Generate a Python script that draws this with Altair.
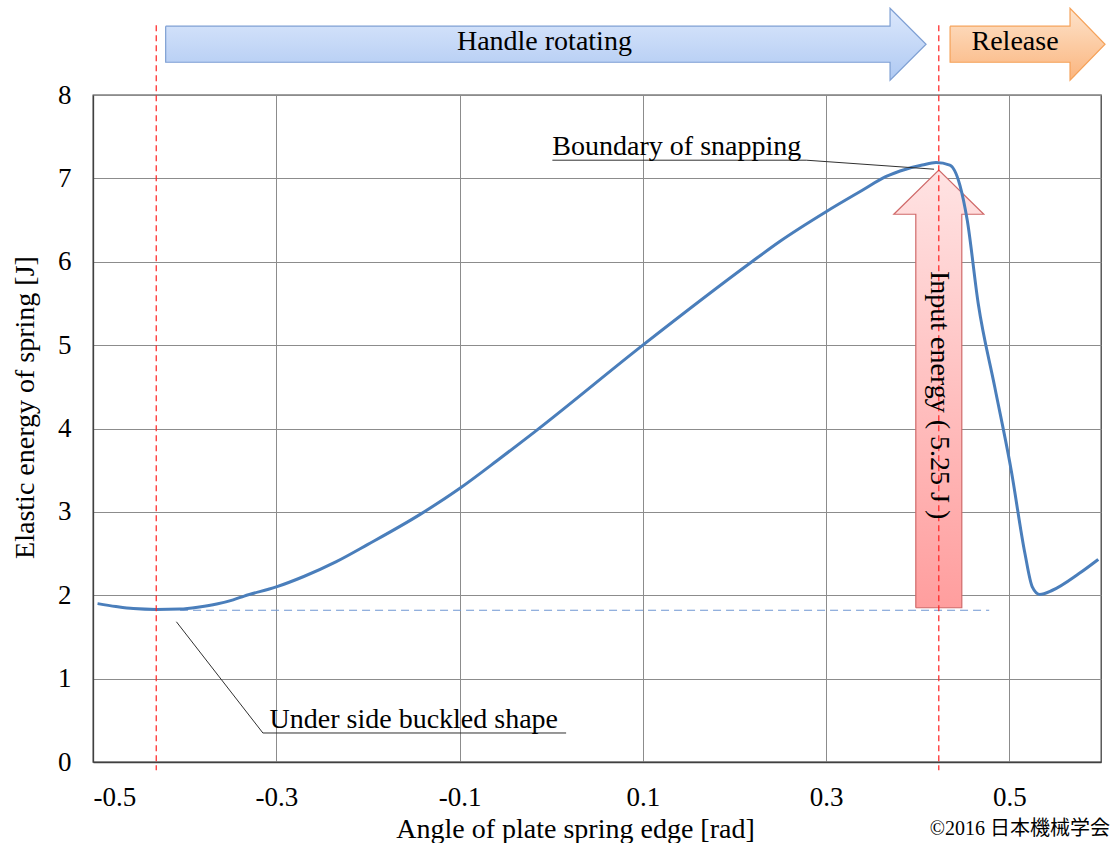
import altair as alt
import pandas as pd

# Elastic energy of the plate spring vs. edge angle
angle = [-0.495, -0.475, -0.456, -0.431, -0.405, -0.384, -0.365, -0.347, -0.335, -0.300,
         -0.270, -0.235, -0.200, -0.143, -0.100, -0.056, -0.018, 0.100, 0.219, 0.249,
         0.300, 0.340, 0.365, 0.387, 0.405, 0.420, 0.435, 0.446, 0.454, 0.466, 0.484,
         0.502, 0.517, 0.525, 0.533, 0.547, 0.576, 0.597]
energy = [1.90, 1.865, 1.84, 1.83, 1.835, 1.86, 1.895, 1.945, 1.99, 2.10,
          2.225, 2.40, 2.61, 2.97, 3.28, 3.64, 3.96, 5.00, 6.00, 6.24,
          6.60, 6.86, 7.02, 7.11, 7.16, 7.19, 7.16, 6.92, 6.50, 5.50, 4.50,
          3.50, 2.50, 2.10, 2.01, 2.06, 2.26, 2.43]

# phase boundaries (buckled shape / snapping) and energy levels
phase_angles = [-0.431, 0.423]
rest_energy = 1.82
rest_span = [-0.405, 0.478]
input_base = 1.85
input_energy = 5.25

x_ticks = [-0.5, -0.3, -0.1, 0.1, 0.3, 0.5]
y_ticks = [0, 1, 2, 3, 4, 5, 6, 7, 8]

SERIF = "Liberation Serif"
X = alt.X("x:Q", scale=alt.Scale(domain=[-0.5, 0.6], nice=False, zero=False),
          axis=alt.Axis(values=x_ticks, title="Angle of plate spring edge [rad]",
                        labelExpr="replace(datum.label, '\u2212', '-')",
                        titleX=482, titleY=67, titleBaseline="middle", titleAlign="center"))
Y = alt.Y("y:Q", scale=alt.Scale(domain=[0, 8], nice=False),
          axis=alt.Axis(values=y_ticks, title="Elastic energy of spring [J]",
                        titleX=-68, titleY=312, titleAngle=270,
                        titleBaseline="middle", titleAlign="center"))


def right_arrow(x0, x_head, x_tip, yc, body, head):
    pts = [(x0, yc + body), (x_head, yc + body), (x_head, yc + head), (x_tip, yc),
           (x_head, yc - head), (x_head, yc - body), (x0, yc - body), (x0, yc + body)]
    return pd.DataFrame([{"x": a, "y": b, "o": i} for i, (a, b) in enumerate(pts)])


def up_arrow(xc, y0, y_head, y_tip, body, head):
    pts = [(xc - body, y0), (xc - body, y_head), (xc - head, y_head), (xc, y_tip),
           (xc + head, y_head), (xc + body, y_head), (xc + body, y0), (xc - body, y0)]
    return pd.DataFrame([{"x": a, "y": b, "o": i} for i, (a, b) in enumerate(pts)])


def grad(top, bottom):
    return alt.Gradient(gradient="linear", x1=0, x2=0, y1=0, y2=1,
                        stops=[alt.GradientStop(color=top, offset=0),
                               alt.GradientStop(color=bottom, offset=1)])


def polygon(df, fill, stroke):
    return alt.Chart(df).mark_line(fill=fill, stroke=stroke, strokeWidth=1.2,
                                   interpolate="linear").encode(
        x=X, y=Y, order="o:Q")


# phase arrows above the plot
handle_arrow = polygon(right_arrow(-0.4207, 0.3698, 0.4091, 8.609, 0.216, 0.432),
                       grad("#DCE8FC", "#AFC9F2"), "#7E9FD3")
release_arrow = polygon(right_arrow(0.4353, 0.5662, 0.6044, 8.609, 0.216, 0.432),
                        grad("#FDE3CB", "#FBB57E"), "#F5A25A")
input_arrow = polygon(up_arrow(phase_angles[1], input_base, 6.57,
                               input_base + input_energy, 0.0251, 0.0491),
                      grad("#FFE3E3", "#FF9E9E"), "#D06A6A")

phase_df = pd.DataFrame({"x": phase_angles, "y": [8.837, 8.837], "y2": [-0.10, -0.10]})
phase_lines = alt.Chart(phase_df).mark_rule(color="#FF2020", strokeWidth=1.2,
                                            strokeDash=[6, 4]).encode(
    x=X, y=Y, y2="y2:Q")

rest_df = pd.DataFrame({"x": rest_span, "y": [rest_energy, rest_energy]})
rest_line = alt.Chart(rest_df).mark_line(color="#6F97D2", strokeWidth=1.2,
                                         strokeDash=[8, 5]).encode(x=X, y=Y)

curve_df = pd.DataFrame({"x": angle, "y": energy})
curve = alt.Chart(curve_df).mark_line(color="#4A7EBB", strokeWidth=3,
                                      interpolate="monotone").encode(x=X, y=Y)

# annotation leaders with underlines
lead1 = pd.DataFrame({"x": [-0.409, -0.3146, 0.0163], "y": [1.682, 0.348, 0.348],
                      "o": [0, 1, 2]})
lead2 = pd.DataFrame({"x": [0.0013, 0.2783, 0.4178], "y": [7.218, 7.218, 7.11],
                      "o": [0, 1, 2]})
leaders = alt.layer(*[
    alt.Chart(d).mark_line(color="#303030", strokeWidth=1).encode(x=X, y=Y, order="o:Q")
    for d in (lead1, lead2)
])

notes = pd.DataFrame([
    {"x": -0.3073, "y": 0.41, "t": "Under side buckled shape"},
    {"x": 0.0013, "y": 7.28, "t": "Boundary of snapping"},
])
note_text = alt.Chart(notes).mark_text(font=SERIF, fontSize=28, align="left",
                                       baseline="alphabetic", color="black").encode(
    x=X, y=Y, text="t:N")

phase_labels = pd.DataFrame([
    {"x": -0.0074, "y": 8.64, "t": "Handle rotating"},
    {"x": 0.5062, "y": 8.64, "t": "Release"},
])
phase_text = alt.Chart(phase_labels).mark_text(font=SERIF, fontSize=28, align="center",
                                               baseline="middle", color="black").encode(
    x=X, y=Y, text="t:N")

input_label = pd.DataFrame([{"x": phase_angles[1], "y": 4.40,
                             "t": f"Input energy ( {input_energy} J )"}])
input_text = alt.Chart(input_label).mark_text(font=SERIF, fontSize=28, angle=90,
                                              align="center", baseline="middle",
                                              color="black").encode(x=X, y=Y, text="t:N")

credit = pd.DataFrame([{"x": 0.6098, "y": -0.803, "t": "©2016 日本機械学会"}])
credit_text = alt.Chart(credit).mark_text(font="Liberation Serif, Noto Sans CJK JP",
                                          fontSize=20, align="right", baseline="middle",
                                          color="black").encode(x=X, y=Y, text="t:N")

chart = alt.layer(
    input_arrow, rest_line, curve, phase_lines, handle_arrow, release_arrow,
    leaders, note_text, phase_text, input_text, credit_text,
).properties(
    width=1008, height=667,
    autosize=alt.AutoSizeParams(type="none"),
    padding={"left": 93, "top": 95, "right": 13, "bottom": 81},
).configure_view(
    stroke="#404040", strokeWidth=1.3,
).configure_axis(
    labelFont=SERIF, labelFontSize=27, labelColor="black",
    titleFont=SERIF, titleFontSize=28, titleColor="black", titleFontWeight="normal",
    grid=True, gridColor="#8C8C8C", gridWidth=1,
    domainColor="#404040", domainWidth=1.3,
    ticks=False, tickSize=0, labelPadding=22,
)

chart.save("out.html", embed_options={"renderer": "svg", "actions": False})
